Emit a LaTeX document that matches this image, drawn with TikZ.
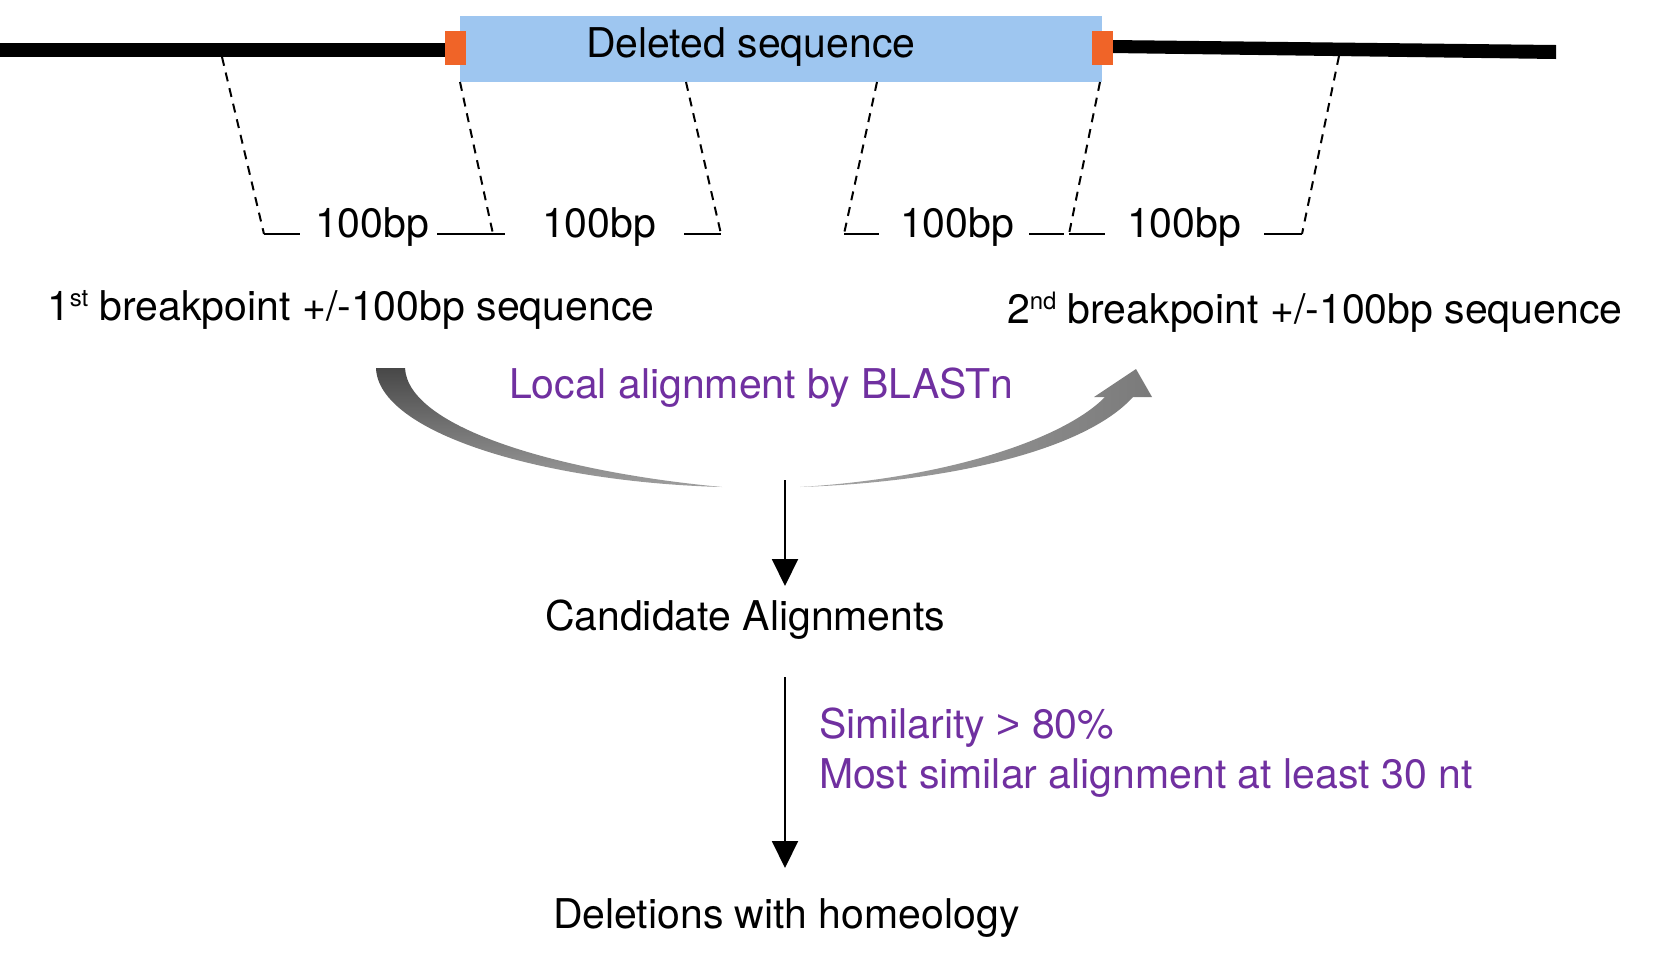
\documentclass[tikz,border=0pt]{standalone}
\usepackage{fontspec}
\setmainfont{TeX Gyre Heros}
\newfontfamily\arialf{Liberation Sans}
\usetikzlibrary{arrows.meta}
\definecolor{purp}{RGB}{112,48,160}
\definecolor{boxblue}{RGB}{158,198,240}
\definecolor{orng}{RGB}{240,100,40}
\newcommand{\supx}[1]{\raisebox{14pt}{\fontsize{24}{24}\selectfont #1}}
\begin{document}
\begin{tikzpicture}[x=1pt,y=-1pt,
  txt/.style={inner sep=0pt, outer sep=0pt, font=\fontsize{41}{49}\selectfont, anchor=base west},
  ptxt/.style={txt, text=purp},
  dsh/.style={line width=2pt, dash pattern=on 9pt off 7pt},
  tickline/.style={line width=2pt},
  arr/.style={line width=2pt, -{Triangle[length=27pt,width=26pt]}}]
\useasboundingbox (0,0) rectangle (1668,967);
% genome lines
\fill[black] (0,43) rectangle (447,57);
\fill[black] (1110,40) -- (1556,45) -- (1556,59) -- (1110,53) -- cycle;
% deleted box
\node[fill=boxblue, inner sep=0pt, minimum width=642pt, minimum height=66pt, anchor=north west] (delbox) at (460,16) {};
\node[txt] (dellabel) at (586,57) {Deleted sequence};
% breakpoints
\node[fill=orng, inner sep=0pt, minimum width=21pt, minimum height=34pt] (bpA) at (455.5,48) {};
\node[fill=orng, inner sep=0pt, minimum width=21pt, minimum height=34pt] (bpB) at (1102.5,47.5) {};
% dashed guides
\coordinate (d1a) at (222,57);   \coordinate (d1b) at (264,234);
\coordinate (d2a) at (460,82);   \coordinate (d2b) at (493,234);
\coordinate (d3a) at (686,82);   \coordinate (d3b) at (721,234);
\coordinate (d4a) at (877,82);   \coordinate (d4b) at (844,234);
\coordinate (d5a) at (1100,82);  \coordinate (d5b) at (1069,234);
\coordinate (d6a) at (1339,56);  \coordinate (d6b) at (1302,234);
\draw[dsh] (d1a) -- (d1b);
\draw[dsh] (d2a) -- (d2b);
\draw[dsh] (d3a) -- (d3b);
\draw[dsh] (d4a) -- (d4b);
\draw[dsh] (d5a) -- (d5b);
\draw[dsh] (d6a) -- (d6b);
% ticks
\draw[tickline] (264,234) -- (300,234);
\draw[tickline] (437,234) -- (471,234);
\draw[tickline] (471,234) -- (505,234);
\draw[tickline] (684,234) -- (721,234);
\draw[tickline] (844,234) -- (879,234);
\draw[tickline] (1029,234) -- (1064,234);
\draw[tickline] (1069,234) -- (1105,234);
\draw[tickline] (1264,234) -- (1302,234);
% 100bp labels
\node[txt] (bp1) at (315,237) {100bp};
\node[txt] (bp2) at (542,237) {100bp};
\node[txt] (bp3) at (900,237) {100bp};
\node[txt] (bp4) at (1127,237) {100bp};
% breakpoint labels
\node[txt] (first) at (47,320) {1\supx{st} breakpoint +/-100bp sequence};
\node[txt] (second) at (1007,323) {2\supx{nd} breakpoint +/-100bp sequence};
% curved arrows
\shade[top color=black!72, bottom color=black!38]
  (376,368) .. controls (378,432) and (540,482) .. (722,487)
  .. controls (560,472) and (408,428) .. (405,368) -- cycle;
\shade[left color=black!35, right color=black!52]
  (800,487) .. controls (950,482) and (1085,450) .. (1133,397)
  -- (1152,397) -- (1136,369) -- (1094,397) -- (1105,397)
  .. controls (1065,438) and (950,478) .. (800,487) -- cycle;
\node[ptxt] (blast) at (509,398) {Local alignment by BLASTn};
% flow
\node[txt] (cand) at (545,630) {Candidate Alignments};
\node[ptxt] (sim1) at (819,738) {Similarity {\arialf >} 80\%};
\node[ptxt] (sim2) at (819,788) {Most similar alignment at least 30 nt};
\node[txt] (homeo) at (553,928) {Deletions with homeology};
\coordinate (a1s) at (785,480);
\coordinate (a1e) at (785,586);
\coordinate (a2s) at (785,677);
\coordinate (a2e) at (785,868);
\draw[arr] (a1s) -- (a1e);
\draw[arr] (a2s) -- (a2e);
\end{tikzpicture}
\end{document}
